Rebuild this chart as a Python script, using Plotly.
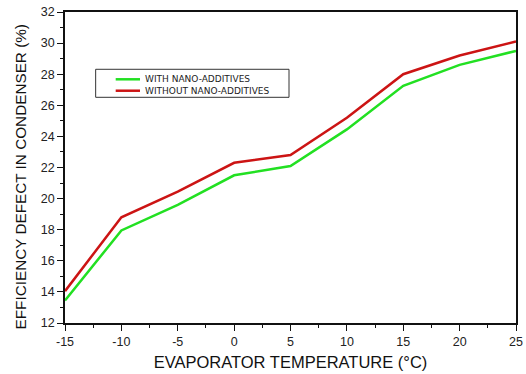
import plotly.graph_objects as go

temps = [-15, -10, -5, 0, 5, 10, 15, 20, 25]
with_nano = [13.45, 17.95, 19.6, 21.5, 22.1, 24.45, 27.25, 28.6, 29.5]
without_nano = [14.05, 18.8, 20.45, 22.3, 22.8, 25.2, 28.0, 29.2, 30.1]
series_names = ["WITH NANO-ADDITIVES", "WITHOUT NANO-ADDITIVES"]
series_colors = ["#22e022", "#cc1414"]
x_ticks = [-15, -10, -5, 0, 5, 10, 15, 20, 25]
x_tick_labels = ["-15", "-10", "-5", "0", "5", "10", "15", "20", "25"]
y_ticks = [12, 14, 16, 18, 20, 22, 24, 26, 28, 30, 32]
x_title = "EVAPORATOR TEMPERATURE (°C)"
y_title = "EFFICIENCY DEFECT IN CONDENSER (%)"

fig = go.Figure()
for name, ys, col in zip(series_names, [with_nano, without_nano], series_colors):
    fig.add_trace(go.Scatter(x=temps, y=ys, mode="lines", name=name,
                             line=dict(color=col, width=2.5), showlegend=False))

axis_common = dict(showgrid=False, zeroline=False, showline=True, linecolor="#111", linewidth=1.8,
                   mirror=True, ticks="outside", ticklen=6, tickwidth=1.3, tickcolor="#111",
                   automargin=False,
                   tickfont=dict(family="Liberation Sans, Arial", size=12.5, color="#222"),
                   minor=dict(ticks="outside", ticklen=3, tickcolor="#111", tickwidth=1))

fig.update_xaxes(range=[-15, 25], tickvals=x_ticks, ticktext=x_tick_labels,
                 title=dict(text=x_title, standoff=9,
                            font=dict(family="Liberation Sans, Arial", size=16.5, color="#111")),
                 **axis_common)
fig.update_xaxes(minor=dict(tickvals=[t + 2.5 for t in x_ticks[:-1]]))
fig.update_yaxes(range=[12, 32], tickvals=y_ticks, **axis_common)
fig.update_yaxes(minor=dict(tickvals=[t + 1 for t in y_ticks[:-1]]))

# y-axis title, placed slightly below plot centre as in the reference
fig.add_annotation(xref="paper", yref="paper", x=-0.0965, y=0.4695, text=y_title,
                   textangle=-90, showarrow=False, xanchor="center", yanchor="middle",
                   font=dict(family="Liberation Sans, Arial", size=15.3, color="#111"))

# legend drawn as a framed box inside the plot
leg_x0, leg_x1, leg_y0, leg_y1 = 0.068, 0.4967, 0.7257, 0.8158
fig.add_shape(type="rect", xref="paper", yref="paper", x0=leg_x0, x1=leg_x1, y0=leg_y0, y1=leg_y1,
              line=dict(color="#333", width=1), fillcolor="white", layer="above")
for name, col, ly in zip(series_names, series_colors, [0.7836, 0.7469]):
    fig.add_shape(type="line", xref="paper", yref="paper", x0=0.1124, x1=0.1663, y0=ly, y1=ly,
                  line=dict(color=col, width=2.5), layer="above")
    fig.add_annotation(xref="paper", yref="paper", x=0.173, y=ly, xanchor="left", yanchor="middle",
                       text=name, showarrow=False,
                       font=dict(family="DejaVu Sans", size=9, color="#222"))

fig.update_layout(
    width=526, height=374,
    margin=dict(l=65, r=10, t=12, b=51),
    paper_bgcolor="white", plot_bgcolor="white",
)

fig.write_html("out.html", config={"displayModeBar": False},
               post_script="document.body.style.margin='0';")
